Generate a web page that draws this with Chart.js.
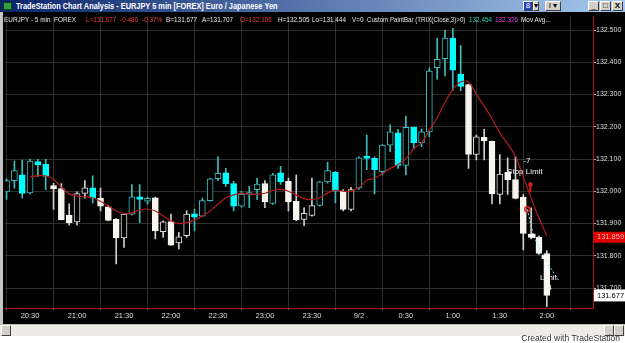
<!DOCTYPE html>
<html>
<head>
    <title>TradeStation Chart Analysis - EURJPY 5 min</title>
    <script src="https://cdn.jsdelivr.net/npm/chart.js"></script>
    <style>
        body {
            margin: 0;
            width: 625px;
            height: 343px;
            background: #ffffff;
            overflow: hidden;
            position: relative;
            font-family: 'Liberation Sans', Arial, sans-serif;
        }

        #titlebar {
            position: absolute;
            left: 0;
            top: 0;
            width: 625px;
            height: 12px;
            background: linear-gradient(to right, #0a246a, #a6caf0);
        }

        #titlebar .txt {
            position: absolute;
            left: 16px;
            top: 0px;
            color: #ffffff;
            font-weight: bold;
            font-size: 9px;
            line-height: 12px;
            white-space: nowrap;
            transform: scaleX(0.82);
            transform-origin: left;
        }

        .icon {
            position: absolute;
            left: 3px;
            top: 2px;
            width: 9px;
            height: 8px;
            background: #30a040;
            border: 1px solid #104010;
            box-sizing: border-box;
        }

        .btn {
            position: absolute;
            top: 1px;
            height: 10px;
            background: #d4d0c8;
            border: 1px solid;
            border-color: #ffffff #404040 #404040 #ffffff;
            box-sizing: border-box;
            font-size: 8px;
            line-height: 8px;
            text-align: center;
            color: #000;
        }

        #chartBox {
            position: absolute;
            left: 0;
            top: 12px;
            width: 625px;
            height: 312px;
            background: #000000;
        }

        #leftEdge {
            position: absolute;
            left: 0;
            top: 12px;
            width: 3px;
            height: 324px;
            background: #c4c4c4;
        }

        .hd {
            position: absolute;
            top: 15px;
            font-size: 8px;
            line-height: 9px;
            white-space: nowrap;
            color: #e8e8e8;
            transform: scaleX(0.8);
            transform-origin: left;
        }

        #scroll {
            position: absolute;
            left: 0;
            top: 324px;
            width: 625px;
            height: 12px;
            background: #eeece6;
            border-top: 1px solid #c0c0c0;
            box-sizing: border-box;
        }

        .sbtn {
            position: absolute;
            top: 0px;
            width: 10px;
            height: 11px;
            background: #d4d0c8;
            border: 1px solid;
            border-color: #ffffff #404040 #404040 #ffffff;
            box-sizing: border-box;
        }

        #credit {
            position: absolute;
            right: 5px;
            top: 334px;
            font-size: 9px;
            line-height: 9px;
            color: #333333;
            white-space: nowrap;
            transform: scaleX(0.95);
            transform-origin: right;
        }
    </style>
</head>
<body>
    <div id="titlebar">
        <div class="icon"></div>
        <div class="txt">TradeStation Chart Analysis - EURJPY 5 min [FOREX] Euro / Japanese Yen</div>
        <div class="btn" style="left:523px;width:10px;background:#2040c0;color:#fff;">8</div>
        <div class="btn" style="left:533px;width:6px;">&#9662;</div>
        <div class="btn" style="left:545px;width:16px;">I &#9662;</div>
        <div class="btn" style="left:588px;width:11px;">_</div>
        <div class="btn" style="left:600px;width:11px;">&#9633;</div>
        <div class="btn" style="left:612px;width:11px;font-weight:bold;">X</div>
    </div>

    <div id="chartBox">
        <canvas id="eurjpyChart" width="625" height="312"></canvas>
    </div>
    <div id="leftEdge"></div>

    <div class="hd" style="left:4px;">EURJPY - 5 min&nbsp; FOREX</div>
    <div class="hd" style="left:86px;color:#e83c3c;">L=131.677</div>
    <div class="hd" style="left:120px;color:#e83c3c;">-0.486</div>
    <div class="hd" style="left:142px;color:#e83c3c;">-0.37%</div>
    <div class="hd" style="left:166px;">B=131.677</div>
    <div class="hd" style="left:202px;">A=131.707</div>
    <div class="hd" style="left:240px;color:#e83c3c;">O=132.106</div>
    <div class="hd" style="left:278px;">H=132.505</div>
    <div class="hd" style="left:312px;">Lo=131.444</div>
    <div class="hd" style="left:352px;">V=0</div>
    <div class="hd" style="left:367px;transform:scaleX(0.77);">Custom PaintBar (TRIX(Close,3)&gt;0)</div>
    <div class="hd" style="left:469px;color:#30d0b8;">132.454</div>
    <div class="hd" style="left:495px;color:#e040e0;">132.326</div>
    <div class="hd" style="left:521px;">Mov Avg...</div>

    <div id="scroll">
        <div class="sbtn" style="left:1px;"></div>
        <div class="sbtn" style="left:604px;"></div>
        <div class="sbtn" style="left:614px;"></div>
    </div>
    <div id="credit">Created with TradeStation</div>

    <script>
        // 5 minute bars, 20:15 .. 2:00 (index 0..69)
        const opens = [131.998, 132.033, 132.051, 131.995, 132.092, 132.084, 132.018, 132.008, 131.926, 131.905,
            131.993, 132.011, 131.978, 131.952, 131.914, 131.855, 131.929, 131.983, 131.969, 131.980,
            131.875, 131.906, 131.840, 131.862, 131.930, 131.923, 131.971, 132.039, 132.057, 132.024,
            131.954, 131.990, 132.005, 132.024, 131.962, 132.057, 132.031, 131.969, 131.913, 131.925,
            131.956, 132.029, 132.059, 132.000, 131.944, 132.010, 132.107, 132.102, 132.061, 132.143,
            132.181, 132.080, 132.198, 132.150, 132.184, 132.383, 132.411, 132.475, 132.363, 132.331,
            132.114, 132.167, 132.155, 131.990, 132.059, 132.036, 131.982, 131.867, 131.857, 131.807];
        const highs = [132.039, 132.094, 132.097, 132.100, 132.099, 132.099, 132.025, 132.024, 131.961, 131.998,
            132.033, 132.048, 132.010, 131.956, 131.915, 131.930, 132.021, 132.021, 131.982, 131.982,
            131.908, 131.929, 131.872, 131.939, 131.944, 131.979, 132.041, 132.107, 132.071, 132.031,
            132.000, 132.015, 132.040, 132.033, 132.056, 132.077, 132.041, 132.051, 131.949, 132.041,
            132.031, 132.090, 132.061, 132.005, 132.012, 132.107, 132.174, 132.107, 132.145, 132.206,
            132.192, 132.233, 132.199, 132.193, 132.383, 132.475, 132.500, 132.505, 132.452, 132.332,
            132.174, 132.192, 132.156, 132.114, 132.104, 132.107, 131.990, 131.949, 131.862, 131.816];
        const lows = [131.975, 132.010, 131.979, 131.991, 132.046, 132.005, 131.944, 131.911, 131.895, 131.895,
            131.979, 131.964, 131.939, 131.908, 131.775, 131.826, 131.927, 131.903, 131.960, 131.852,
            131.857, 131.832, 131.821, 131.857, 131.877, 131.922, 131.969, 132.033, 132.015, 131.939,
            131.951, 131.949, 131.975, 131.949, 131.959, 132.021, 131.939, 131.909, 131.893, 131.923,
            131.954, 132.025, 131.964, 131.939, 131.939, 132.006, 132.067, 131.992, 132.051, 132.123,
            132.071, 132.051, 132.131, 132.138, 132.169, 132.348, 132.358, 132.312, 132.312, 132.071,
            132.097, 132.097, 131.961, 131.961, 131.990, 131.976, 131.818, 131.852, 131.804, 131.642];
        const closes = [132.033, 132.064, 131.993, 132.094, 132.082, 132.046, 132.007, 131.912, 131.903, 131.993,
            132.011, 131.979, 131.954, 131.910, 131.855, 131.929, 131.983, 131.975, 131.978, 131.877,
            131.905, 131.833, 131.859, 131.929, 131.920, 131.971, 132.039, 132.056, 132.023, 131.954,
            131.991, 131.994, 132.022, 131.967, 132.051, 132.029, 131.967, 131.911, 131.932, 131.956,
            132.029, 132.064, 132.000, 131.944, 132.005, 132.104, 132.102, 132.067, 132.143, 132.184,
            132.080, 132.198, 132.151, 132.184, 132.373, 132.409, 132.475, 132.376, 132.325, 132.114,
            132.169, 132.156, 131.992, 132.053, 132.036, 131.978, 131.869, 131.857, 131.807, 131.677];
        // paintbar state: 1 = cyan (TRIX > 0), 0 = white
        const trixUp = [1, 1, 1, 1, 1, 1, 0, 0, 0, 0,
            0, 1, 0, 0, 0, 0, 1, 1, 1, 0,
            0, 0, 0, 0, 1, 1, 1, 1, 1, 1,
            1, 1, 1, 0, 1, 1, 0, 0, 0, 0,
            1, 1, 1, 0, 0, 1, 1, 1, 1, 1,
            1, 1, 1, 1, 1, 1, 1, 1, 1, 0,
            0, 0, 0, 0, 0, 0, 0, 0, 0, 0];
        // moving average (red line)
        const movAvg = [null, null, null, 132.045, 132.048, 132.048, 132.037, 132.012, 131.992, 131.985,
            131.983, 131.980, 131.969, 131.954, 131.939, 131.931, 131.933, 131.942, 131.945, 131.939,
            131.923, 131.908, 131.900, 131.902, 131.911, 131.923, 131.939, 131.960, 131.979, 131.989,
            131.994, 131.991, 131.991, 131.994, 132.003, 132.006, 132.000, 131.988, 131.977, 131.974,
            131.980, 131.995, 132.003, 132.000, 132.000, 132.012, 132.034, 132.040, 132.055, 132.071,
            132.083, 132.101, 132.132, 132.150, 132.190, 132.228, 132.276, 132.316, 132.339, 132.338,
            132.301, 132.264, 132.225, 132.181, 132.147, 132.109, 132.044, 131.979, 131.917, 131.862];

        const timeTicks = [3, 9, 15, 21, 27, 33, 39, 45, 51, 57, 63, 69];
        const timeLabels = ['20:30', '21:00', '21:30', '22:00', '22:30', '23:00', '23:30', '9/2', '0:30', '1:00', '1:30', '2:00'];
        const priceTicks = [131.7, 131.8, 131.9, 132.0, 132.1, 132.2, 132.3, 132.4, 132.5];

        const lastPrice = 131.677;
        const lastAvg = 131.859;

        // order annotations: [bar index, price]
        const stopLimitAt = [66.2, 132.060];
        const stopMarkAt = [66.9, 132.012];
        const entryCircle = [66.5, 131.944];
        const tradeLine = [[66.5, 131.944], [67.3, 131.862], [68.6, 131.796], [70.5, 131.724]];
        const limitMarkAt = [68.9, 131.767];
        const limitTextAt = [69.2, 131.733];

        const CYAN = '#00ffff';
        const TEAL = '#3cbcbc';
        const WHITE = '#f7f5ee';
        const WHITE_LINE = '#dcdcdc';

        const bodyFill = opens.map((o, i) => {
            const up = closes[i] >= o;
            if (up) return '#000000';
            return trixUp[i] ? CYAN : WHITE;
        });
        const bodyLine = opens.map((o, i) => {
            const up = closes[i] >= o;
            if (trixUp[i]) return up ? TEAL : CYAN;
            return up ? WHITE_LINE : WHITE;
        });
        const wickColor = trixUp.map(t => t ? TEAL : '#cfcfcf');

        const annotations = {
            id: 'annotations',
            afterDatasetsDraw(chart) {
                const ctx = chart.ctx;
                const x = chart.scales.x;
                const y = chart.scales.y;
                const px = p => [x.getPixelForValue(p[0]), y.getPixelForValue(p[1])];
                ctx.save();

                // dotted trade line
                ctx.strokeStyle = '#8ae8e8';
                ctx.lineWidth = 1;
                ctx.setLineDash([2, 2]);
                ctx.beginPath();
                tradeLine.forEach((p, k) => {
                    const [a, b] = px(p);
                    if (k === 0) ctx.moveTo(a, b); else ctx.lineTo(a, b);
                });
                ctx.stroke();
                ctx.setLineDash([]);
                ctx.fillStyle = '#ffffff';
                tradeLine.slice(1, 3).forEach(p => {
                    const [a, b] = px(p);
                    ctx.fillRect(a - 2, b - 2, 4, 4);
                });

                // red entry circle
                let [cx, cy] = px(entryCircle);
                ctx.strokeStyle = '#e02020';
                ctx.lineWidth = 1.5;
                ctx.beginPath();
                ctx.arc(cx, cy, 2.5, 0, Math.PI * 2);
                ctx.stroke();

                // red stop marker
                [cx, cy] = px(stopMarkAt);
                ctx.fillStyle = '#e02020';
                ctx.fillRect(cx - 1, cy - 5, 2, 10);
                ctx.beginPath();
                ctx.arc(cx, cy - 3, 2.2, 0, Math.PI * 2);
                ctx.fill();

                // white limit marker
                [cx, cy] = px(limitMarkAt);
                ctx.fillStyle = '#ffffff';
                ctx.fillRect(cx - 0.5, cy - 4, 1.5, 8);
                ctx.fillRect(cx - 2, cy - 4, 4, 1.5);
                ctx.fillRect(cx - 2, cy + 2, 4, 2);

                // texts
                ctx.font = '8px "Liberation Sans", Arial, sans-serif';
                ctx.fillStyle = '#f0f0f0';
                ctx.textAlign = 'center';
                ctx.textBaseline = 'middle';
                [cx, cy] = px(stopLimitAt);
                ctx.fillText('-7', cx + 2, cy - 11);
                ctx.fillText('Stop Limit', cx, cy);
                [cx, cy] = px(limitTextAt);
                ctx.fillText('Limit', cx, cy);
                ctx.fillText('-4', cx, cy + 10);
                ctx.restore();
            },
            afterDraw(chart) {
                const ctx = chart.ctx;
                const y = chart.scales.y;
                const left = chart.chartArea.right + 1;
                ctx.save();
                ctx.font = '7.5px "Liberation Sans", Arial, sans-serif';
                ctx.textBaseline = 'middle';
                ctx.textAlign = 'left';
                let py = y.getPixelForValue(lastAvg);
                ctx.fillStyle = '#e00000';
                ctx.fillRect(left, py - 5, 31, 11);
                ctx.fillStyle = '#ffb8b8';
                ctx.fillText(lastAvg.toFixed(3), left + 3, py + 0.5);
                py = y.getPixelForValue(lastPrice);
                ctx.fillStyle = '#ffffff';
                ctx.fillRect(left, py - 6, 31, 12);
                ctx.fillStyle = '#000000';
                ctx.fillText(lastPrice.toFixed(3), left + 3, py + 0.5);
                ctx.restore();
            }
        };

        const ctx = document.getElementById('eurjpyChart').getContext('2d');
        const chart = new Chart(ctx, {
            type: 'bar',
            data: {
                datasets: [
                    {
                        type: 'line',
                        label: 'Mov Avg',
                        data: movAvg.map((v, i) => ({ x: i, y: v })),
                        borderColor: '#b01e1e',
                        borderWidth: 1.2,
                        pointRadius: 0,
                        tension: 0.35,
                        order: 1,
                    },
                    {
                        label: 'Body',
                        data: opens.map((o, i) => ({ x: i, y: [o, closes[i]] })),
                        backgroundColor: bodyFill,
                        borderColor: bodyLine,
                        borderWidth: 1,
                        borderSkipped: false,
                        barThickness: 6,
                        minBarLength: 2,
                        grouped: false,
                        order: 2,
                    },
                    {
                        label: 'Wick',
                        data: lows.map((l, i) => ({ x: i, y: [l, highs[i]] })),
                        backgroundColor: wickColor,
                        barThickness: 1,
                        grouped: false,
                        order: 3,
                    },
                ],
            },
            options: {
                responsive: false,
                animation: false,
                devicePixelRatio: 1,
                layout: { padding: { left: 5, top: 0, right: 0, bottom: 0 } },
                plugins: {
                    legend: { display: false },
                    tooltip: { enabled: false },
                },
                scales: {
                    x: {
                        type: 'linear',
                        min: -0.2,
                        max: 74.9,
                        offset: false,
                        afterBuildTicks: s => { s.ticks = timeTicks.map(v => ({ value: v })); },
                        afterFit: s => { s.height = 16; },
                        ticks: {
                            autoSkip: false,
                            maxRotation: 0,
                            color: '#dedede',
                            padding: 1,
                            font: { family: 'Liberation Sans', size: 7.5 },
                            callback: v => timeLabels[timeTicks.indexOf(v)],
                        },
                        grid: { color: '#2e2e2e', tickLength: 2, tickColor: '#707070' },
                        border: { color: '#b01818', width: 1 },
                    },
                    y: {
                        position: 'right',
                        min: 131.638,
                        max: 132.543,
                        afterBuildTicks: s => { s.ticks = priceTicks.map(v => ({ value: v })); },
                        afterFit: s => { s.width = 32; },
                        ticks: {
                            color: '#dedede',
                            padding: 0,
                            font: { family: 'Liberation Sans', size: 7 },
                            callback: v => v.toFixed(3),
                        },
                        grid: { color: '#2e2e2e', tickLength: 3, tickColor: '#b0b0b0' },
                        border: { color: '#b01818', width: 1 },
                    },
                },
            },
            plugins: [annotations],
        });
    </script>
</body>
</html>
